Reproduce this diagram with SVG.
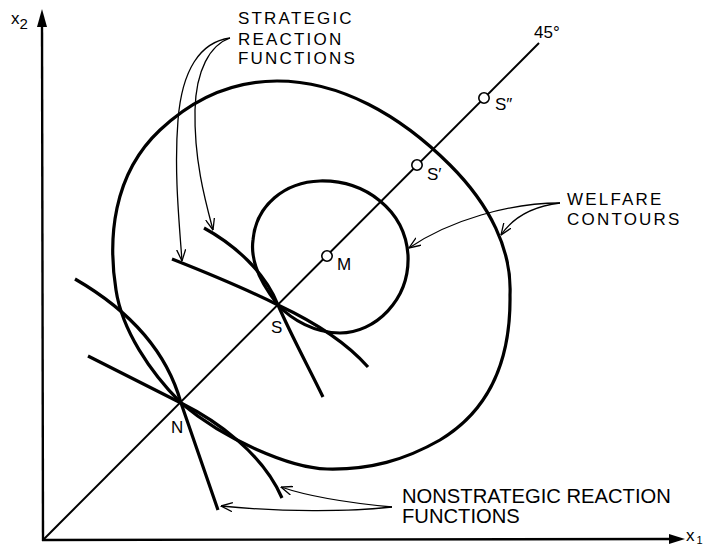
<svg xmlns="http://www.w3.org/2000/svg" width="712" height="550" viewBox="0 0 712 550">
  <style>
    .thick { fill: none; stroke: #000; stroke-width: 3.2; stroke-linejoin: round; }
    .diag { fill: none; stroke: #000; stroke-width: 2; }
    .axis { fill: none; stroke: #000; stroke-width: 2.4; }
    .lead { fill: none; stroke: #000; stroke-width: 1.3; marker-end: url(#open); }
    .pt { fill: #fff; stroke: #000; stroke-width: 1.6; }
    .lbl { font-family: "Liberation Sans", Arial, sans-serif; font-size: 17px; fill: #000; }
    .cap { font-family: "Liberation Sans", Arial, sans-serif; font-size: 17px; letter-spacing: 2.2px; fill: #000; }
    .big { font-family: "Liberation Sans", Arial, sans-serif; font-size: 20.2px; fill: #000; }
  </style>
  <defs>
    <marker id="open" viewBox="0 0 12 10" refX="11.5" refY="5" markerWidth="12" markerHeight="10" markerUnits="userSpaceOnUse" orient="auto">
      <path d="M0,0.5 L11.5,5 L0,9.5" fill="none" stroke="#000" stroke-width="1.3"/>
    </marker>
  </defs>
  <rect width="712" height="550" fill="#fff"/>

  <g id="axes">
    <line class="axis" x1="43" y1="541" x2="42" y2="22"/>
    <polygon points="42,9 37,27 47,27" fill="#000"/>
    <line class="axis" x1="42" y1="540" x2="672" y2="539"/>
    <polygon points="685,539 669,534 669,544" fill="#000"/>
    <text class="lbl" x="11" y="24" font-size="18">x<tspan font-size="15" dy="5">2</tspan></text>
    <text class="lbl" x="686" y="541" font-size="17">x<tspan font-size="11" dy="3" dx="2">1</tspan></text>
  </g>

  <g id="diagonal">
    <line class="diag" x1="43" y1="540" x2="539" y2="43"/>
    <text class="lbl" x="534" y="38" font-size="18">45°</text>
  </g>

  <g id="outer-contour">
    <path class="thick" d="M181,403 C150,372 122,330 116,290 C108,240 112,175 160,130 C195,97 235,81 277,81 C340,81 400,115 450,165 C490,205 512,250 510,295 C511,360 490,410 440,440 C405,460 370,470 327,469 C290,468 225,440 181,403"/>
  </g>

  <g id="inner-contour">
    <path class="thick" d="M278,305 C262,285 250,262 253,240 C256,205 285,182 320,181 C365,180 405,210 408,255 C410,300 375,333 340,333 C315,333 292,320 278,305 Z"/>
  </g>

  <g id="strategic-reaction-functions">
    <path class="thick" d="M172,259 C210,274 250,291 278,305 C310,320 345,341 368,367"/>
    <path class="thick" d="M204,228 C235,245 265,272 278,305 C292,337 308,366 323,397"/>
  </g>

  <g id="nonstrategic-reaction-functions">
    <path class="thick" d="M75,279 C120,305 165,345 181,403 L218,510"/>
    <path class="thick" d="M88,356 L181,403 C215,420 262,452 282,498"/>
  </g>

  <g id="point-N">
    <text class="lbl" x="171" y="433">N</text>
  </g>
  <g id="point-S">
    <text class="lbl" x="271" y="333">S</text>
  </g>
  <g id="point-M">
    <circle class="pt" cx="327" cy="256" r="5.2"/>
    <text class="lbl" x="337" y="270">M</text>
  </g>
  <g id="point-S1">
    <circle class="pt" cx="417" cy="165" r="5.2"/>
    <text class="lbl" x="427" y="180">S′</text>
  </g>
  <g id="point-S2">
    <circle class="pt" cx="484" cy="98" r="5.2"/>
    <text class="lbl" x="495" y="110">S″</text>
  </g>

  <g id="label-strategic">
    <text class="cap" x="238" y="24">STRATEGIC</text>
    <text class="cap" x="238" y="45">REACTION</text>
    <text class="cap" x="238" y="64">FUNCTIONS</text>
  </g>
  <g id="label-welfare">
    <text class="cap" x="567" y="205" letter-spacing="2.4">WELFARE</text>
    <text class="cap" x="567" y="225" letter-spacing="2.4">CONTOURS</text>
  </g>
  <g id="label-nonstrategic">
    <text class="big" x="402" y="503">NONSTRATEGIC REACTION</text>
    <text class="big" x="402" y="523">FUNCTIONS</text>
  </g>

  <g id="connectors">
    <path class="lead" d="M230,38 C200,42 182,70 178,120 C174,170 179,220 182,261"/>
    <path class="lead" d="M230,38 C210,45 196,70 195,110 C194,160 205,200 213,230"/>
    <path class="lead" d="M560,203 C510,203 450,220 409,248"/>
    <path class="lead" d="M560,203 C535,206 514,216 501,235"/>
    <path class="lead" d="M392,507 C350,512 280,512 221,506"/>
    <path class="lead" d="M392,507 C350,503 310,497 281,487"/>
  </g>
</svg>
